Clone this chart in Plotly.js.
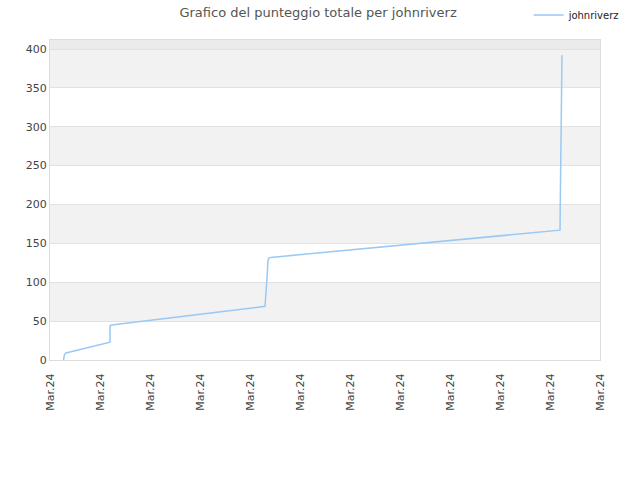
<!DOCTYPE html>
<html>
<head>
<meta charset="utf-8">
<script src="https://cdn.plot.ly/plotly-3.0.1.min.js"></script>
<style>
  html, body { margin: 0; padding: 0; background: #fff; }
  #chart { width: 640px; height: 480px; }
</style>
</head>
<body>
<div id="chart"></div>
<script>
// time position in tick units (one unit per "Mar.24" tick), total score
var timePos = [0.27, 0.29, 0.32, 1.2, 1.2, 1.23, 4.3, 4.32, 4.34, 4.36, 4.38, 4.42, 10.2, 10.21, 10.22, 10.24];
var scores  = [0, 7, 9, 23, 44, 45, 69, 83, 105, 128, 131, 132, 167, 228, 270, 392];

var tickPos = [0, 1, 2, 3, 4, 5, 6, 7, 8, 9, 10, 11];
var tickLabels = tickPos.map(function() { return 'Mar.24'; });

var bandEdges = [[50, 100], [150, 200], [250, 300], [350, 400]];
var yMax = 411.6;

var shapes = bandEdges.map(function(b) {
  return {
    type: 'rect', xref: 'paper', yref: 'y', x0: 0, x1: 1, y0: b[0], y1: b[1],
    fillcolor: '#f2f2f2', line: { width: 0 }, layer: 'below'
  };
});
shapes.push({
  type: 'rect', xref: 'paper', yref: 'y', x0: 0, x1: 1, y0: 400, y1: yMax,
  fillcolor: '#ebebeb', line: { width: 0 }, layer: 'below'
});

var trace = {
  x: timePos,
  y: scores,
  type: 'scatter',
  mode: 'lines',
  name: 'johnriverz',
  line: { color: '#99c9f5', width: 1.5 }
};

var layout = {
  width: 640,
  height: 480,
  paper_bgcolor: '#fff',
  plot_bgcolor: '#fff',
  font: { family: 'DejaVu Sans, sans-serif', size: 11, color: '#444' },
  title: {
    text: 'Grafico del punteggio totale per johnriverz',
    font: { size: 13, color: '#555' },
    x: 0.497, xanchor: 'center', y: 0.975, yanchor: 'middle'
  },
  showlegend: true,
  legend: {
    x: 0.976, xanchor: 'right', y: 0.969, yanchor: 'middle',
    yref: 'container', xref: 'container',
    font: { size: 10, color: '#222' },
    bgcolor: 'rgba(0,0,0,0)',
    itemwidth: 30
  },
  margin: { l: 50, r: 40, t: 40, b: 120, autoexpand: false },
  xaxis: {
    range: [0, 11],
    tickvals: tickPos,
    ticktext: tickLabels,
    tickangle: -90,
    showgrid: false,
    zeroline: false,
    showline: true,
    linecolor: '#dddddd',
    mirror: true,
    ticks: '',
    ticklabelstandoff: 8,
    tickfont: { size: 11, color: '#444' }
  },
  yaxis: {
    range: [0, yMax],
    tickvals: [0, 50, 100, 150, 200, 250, 300, 350, 400],
    showgrid: true,
    gridcolor: '#e2e2e2',
    zeroline: false,
    showline: true,
    linecolor: '#dddddd',
    mirror: true,
    ticks: '',
    tickfont: { size: 11, color: '#444' }
  },
  shapes: shapes
};

Plotly.newPlot('chart', [trace], layout, { displayModeBar: false, staticPlot: true });
</script>
</body>
</html>
